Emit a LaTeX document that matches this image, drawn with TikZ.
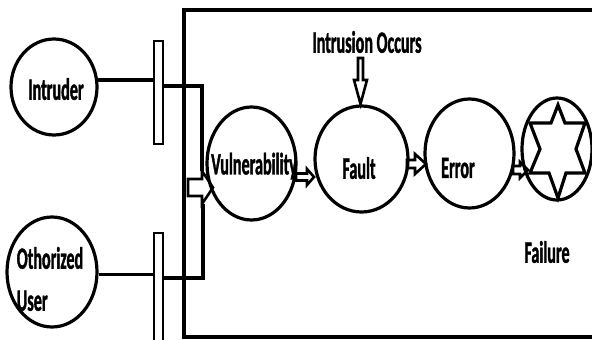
\documentclass[tikz,border=0pt]{standalone}
\usepackage{fontspec}
\newfontfamily\lblfont{Carlito}[FakeStretch=0.52,FakeBold=1.2,UprightFont=* Bold]
\usetikzlibrary{shapes.geometric,calc}
\tikzset{
  ring/.style={ellipse,draw,line width=3.2pt,inner sep=0pt},
  bar/.style={draw,fill=white,line width=2.6pt,inner sep=0pt,minimum width=9pt},
  lbl/.style={font=\lblfont\fontsize{31}{42}\selectfont,inner sep=0pt},
  wire/.style={line width=3.2pt},
  hollow/.style={draw,line width=2.6pt,fill=white,line join=miter},
}
% horizontal hollow block arrow: x start, x head start, x tip, y centre, half shaft, half head
\newcommand\blockarrowH[6]{%
  \draw[hollow] (#1,#4-#5) -- (#2,#4-#5) -- (#2,#4-#6) -- (#3,#4)
    -- (#2,#4+#6) -- (#2,#4+#5) -- (#1,#4+#5) -- cycle;}
\begin{document}
\begin{tikzpicture}[x=1pt,y=-1pt]
  \useasboundingbox (0,0) rectangle (592,340);
  \clip (0,0) rectangle (592,340);

  % system frame
  \draw[line width=3.4pt] (600,10) -- (184,10) -- (184,337) -- (600,337);

  % block arrows (drawn beneath the rings)
  \blockarrowH{188}{202}{213}{187.5}{8.5}{16.5}
  \coordinate (headtop) at (202,171);
  \coordinate (headbot) at (203,204);
  \blockarrowH{296}{307}{314}{177}{3.5}{8}
  \blockarrowH{407}{415}{426}{164}{4}{10}
  \blockarrowH{513}{520}{528}{170}{4}{8}
  \draw[hollow] (358,58) -- (363,58) -- (363,80) -- (367,80) -- (360.5,104)
    -- (354,80) -- (358,80) -- cycle;

  % actors
  \node[ring,minimum width=86pt,minimum height=96pt] (intr) at (54,87) {};
  \node[lbl] (intrtxt) at (56,89) {Intruder};
  \node[ring,minimum width=90pt,minimum height=110pt] (user) at (52,272) {};
  \node[lbl,align=left] (usertxt) at (50,279) {Othorized\\User};

  % gates
  \node[bar,minimum height=103pt] (bar1) at (158.5,92.5) {};
  \node[bar,minimum height=110pt] (bar2) at (158.5,288) {};

  % connectors
  \draw[wire] (intr.9) -- (intr.9 -| bar1.west);
  \draw[wire] ($(bar1.east)+(0,-6.5)$) -| (headtop);
  \draw[wire] (user.-3) -- (user.-3 -| bar2.west);
  \draw[wire] ($(bar2.east)+(0,-10)$) -| (headbot);
  \node[bar,minimum height=103pt] at (bar1) {};
  \node[bar,minimum height=110pt] at (bar2) {};

  % chain of states
  \node[ring,minimum width=89pt,minimum height=113pt] (vul) at (251.5,163.5) {};
  \node[lbl] (vultxt) at (254,166) {Vulnerability};
  \node[ring,minimum width=93pt,minimum height=106pt] (fault) at (361.5,159) {};
  \node[lbl] (faulttxt) at (359,168) {Fault};
  \node[ring,minimum width=89pt,minimum height=109pt] (err) at (469.5,153.5) {};
  \node[lbl] (errtxt) at (458,168) {Error};
  \node[ring,minimum width=70pt,minimum height=102pt] (fail) at (557,149) {};
  \draw[line width=3.2pt,line join=miter]
    (558,105) -- (565,123) -- (585,123) -- (576,149) -- (585,173) -- (566,173)
    -- (558,198) -- (549,173) -- (530,173) -- (540,149) -- (530,123) -- (551,123) -- cycle;

  \node[lbl] (intrusion) at (367,42) {Intrusion Occurs};
  \node[lbl] (failtxt) at (547,252) {Failure};
\end{tikzpicture}
\end{document}
